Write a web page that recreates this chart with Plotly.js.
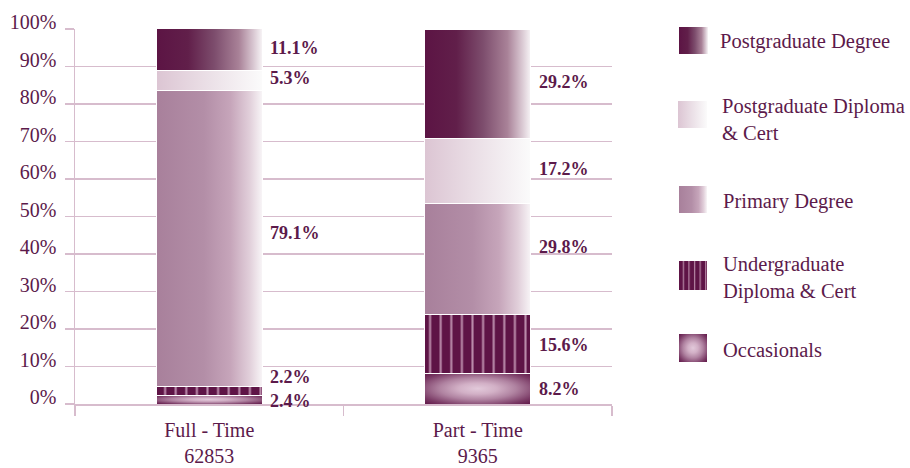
<!DOCTYPE html>
<html><head><meta charset="utf-8">
<script src="https://cdn.plot.ly/plotly-3.0.1.min.js"></script>
<style>html,body{margin:0;padding:0;background:#fff}#chart{width:910px;height:468px}</style>
</head><body><div id="chart"></div>
<script>
// ---------- data ----------
const categories = ['Full - Time<br>62853', 'Part - Time<br>9365'];
const seriesNames = ['Occasionals', 'Undergraduate<br>Diploma & Cert', 'Primary Degree', 'Postgraduate Diploma<br>& Cert', 'Postgraduate Degree'];
const occasionals      = [2.4, 8.2];
const undergradDiploma = [2.2, 15.6];
const primaryDegree    = [79.1, 29.8];
const postgradDiploma  = [5.3, 17.2];
const postgradDegree   = [11.1, 29.2];
const yTickVals = [0, 10, 20, 30, 40, 50, 60, 70, 80, 90, 100];
const yTickText = ['0%', '10%', '20%', '30%', '40%', '50%', '60%', '70%', '80%', '90%', '100%'];

// ---------- style ----------
const FONT = 'Liberation Serif, DejaVu Serif, serif';
const TXT = '#5c1a4b';
const DARK = '#5e1446';
const GRID = '#d7bccd';
const BARW = 0.395;
const series = [occasionals, undergradDiploma, primaryDegree, postgradDiploma, postgradDegree];
const baseColors = ['#8a4a73', DARK, '#b996ad', '#e9dce4', '#7a3f66'];
const fillIds = ['g-occ', null, 'g-pri', 'g-pgdip', 'g-pgdeg'];

const traces = series.map((vals, i) => {
  const t = {
    type: 'bar', name: seriesNames[i], x: categories, y: vals, width: BARW,
    marker: { color: baseColors[i], line: { color: '#ffffff', width: 1 } },
    hoverinfo: 'skip', showlegend: false
  };
  if (i === 1) {
    t.marker.pattern = { shape: '|', fgcolor: '#b98aa9', bgcolor: DARK, size: 10.6, solidity: 0.2, fillmode: 'replace' };
  }
  return t;
});

// label nudges (px, + = up) per category per series
const labelNudge = [[-1, 14, 5, 2, 1], [0, -1, 12, 2, 2]];
const annotations = [];
categories.forEach((c, ci) => {
  let cum = 0;
  series.forEach((vals, si) => {
    const v = vals[ci];
    annotations.push({
      x: ci + BARW / 2, y: cum + v / 2, xref: 'x', yref: 'y',
      text: v.toFixed(1) + '%', showarrow: false, xanchor: 'left', yanchor: 'middle',
      xshift: 6, yshift: labelNudge[ci][si],
      font: { family: FONT, size: 18, color: TXT, weight: 'bold' }
    });
    cum += v;
  });
});

// legend (custom, paper coordinates derived from the plot frame)
const L = 75, R = 612, T = 29, B = 404;
const px = p => (p - L) / (R - L);
const py = p => (B - p) / (B - T);
const legendItems = [
  { name: seriesNames[4], fill: 'g-pgdeg', box: [679, 708, 27, 54], tx: 718, ty: 41 },
  { name: seriesNames[3], fill: 'g-pgdip', box: [678, 707, 101, 128], tx: 720, ty: 119 },
  { name: seriesNames[2], fill: 'g-pri', box: [679, 707, 186, 213], tx: 721, ty: 201 },
  { name: seriesNames[1], fill: 'p-stripes', box: [679, 707, 261, 290], tx: 721, ty: 278 },
  { name: seriesNames[0], fill: 'g-occ', box: [679, 707, 334, 362], tx: 721, ty: 350 }
];
const shapes = legendItems.map(it => ({
  type: 'rect', xref: 'paper', yref: 'paper',
  x0: px(it.box[0]), x1: px(it.box[1]), y0: py(it.box[3]), y1: py(it.box[2]),
  fillcolor: '#9a6a8a', line: { width: 0 }, layer: 'above'
}));
legendItems.forEach(it => annotations.push({
  x: px(it.tx), y: py(it.ty), xref: 'paper', yref: 'paper', text: it.name,
  showarrow: false, xanchor: 'left', yanchor: 'middle', align: 'left',
  font: { family: FONT, size: 20.5, color: TXT }
}));

const layout = {
  width: 910, height: 468,
  margin: { l: L, r: 910 - R, t: T, b: 468 - B, pad: 0 },
  paper_bgcolor: '#ffffff', plot_bgcolor: '#ffffff',
  barmode: 'stack', showlegend: false,
  xaxis: {
    type: 'category', range: [-0.5, 1.5], tickson: 'boundaries',
    ticks: 'outside', ticklen: 10, tickwidth: 1.5, tickcolor: GRID,
    showline: true, linecolor: GRID, linewidth: 1.5, showgrid: false,
    ticklabelstandoff: 7,
    tickfont: { family: FONT, size: 20, color: TXT }
  },
  yaxis: {
    range: [0, 100], tickvals: yTickVals, ticktext: yTickText,
    showgrid: true, gridcolor: GRID, gridwidth: 1.5, zeroline: false,
    ticks: 'outside', ticklen: 9, tickwidth: 1.5, tickcolor: GRID,
    showline: true, linecolor: GRID, linewidth: 1.5,
    ticklabelstandoff: 4, ticklabelshift: -7,
    tickfont: { family: FONT, size: 20, color: TXT }
  },
  shapes: shapes,
  annotations: annotations
};

function applyFills(gd) {
  const NS = 'http://www.w3.org/2000/svg';
  const svg = gd.querySelector('.main-svg');
  let defs = svg.querySelector('defs');
  if (!defs) { defs = document.createElementNS(NS, 'defs'); svg.insertBefore(defs, svg.firstChild); }
  function addStops(g, stops) {
    stops.forEach(s => {
      const st = document.createElementNS(NS, 'stop');
      st.setAttribute('offset', s[0]); st.setAttribute('stop-color', s[1]);
      g.appendChild(st);
    });
  }
  function lin(id, stops) {
    const g = document.createElementNS(NS, 'linearGradient');
    g.setAttribute('id', id); g.setAttribute('x1', '0'); g.setAttribute('y1', '0');
    g.setAttribute('x2', '1'); g.setAttribute('y2', '0');
    addStops(g, stops); defs.appendChild(g);
  }
  function rad(id, stops, r) {
    const g = document.createElementNS(NS, 'radialGradient');
    g.setAttribute('id', id); g.setAttribute('cx', '0.5'); g.setAttribute('cy', '0.5'); g.setAttribute('r', r);
    addStops(g, stops); defs.appendChild(g);
  }
  lin('g-pgdeg', [[0, '#5c1444'], [0.3, '#611f4a'], [0.55, '#7d4d6d'], [0.78, '#a98298'], [0.92, '#dac9d3'], [1, '#f7f4f6']]);
  lin('g-pgdip', [[0, '#dcc5d3'], [0.5, '#ebe0e7'], [1, '#fbfbfb']]);
  lin('g-pri', [[0, '#a8809b'], [0.45, '#b38ea7'], [0.7, '#c6a5ba'], [0.88, '#e1cfda'], [1, '#f8f5f7']]);
  rad('g-occ', [[0, '#e2c9da'], [0.25, '#d2b0c6'], [0.5, '#b083a1'], [0.8, '#7a3a65'], [1, '#5e1446']], '0.72');
  // stripes for legend swatch
  const pat = document.createElementNS(NS, 'pattern');
  pat.setAttribute('id', 'p-stripes'); pat.setAttribute('patternUnits', 'objectBoundingBox');
  pat.setAttribute('patternContentUnits', 'objectBoundingBox');
  pat.setAttribute('width', '0.2'); pat.setAttribute('height', '1');
  const r1 = document.createElementNS(NS, 'rect');
  r1.setAttribute('x', 0); r1.setAttribute('y', 0); r1.setAttribute('width', 0.2); r1.setAttribute('height', 1); r1.setAttribute('fill', DARK);
  const r2 = document.createElementNS(NS, 'rect');
  r2.setAttribute('x', 0.14); r2.setAttribute('y', 0); r2.setAttribute('width', 0.035); r2.setAttribute('height', 1); r2.setAttribute('fill', '#c9a2bb');
  pat.appendChild(r1); pat.appendChild(r2); defs.appendChild(pat);

  gd.querySelectorAll('.barlayer .trace').forEach((tr, i) => {
    if (fillIds[i]) tr.querySelectorAll('path').forEach(p => { p.style.fill = 'url(#' + fillIds[i] + ')'; });
  });
  gd.querySelectorAll('.shapelayer path').forEach(p => {
    const idx = +p.getAttribute('data-index');
    if (legendItems[idx]) p.style.fill = 'url(#' + legendItems[idx].fill + ')';
  });
}

Plotly.newPlot('chart', traces, layout, { staticPlot: true, displayModeBar: false })
  .then(gd => applyFills(gd));
</script>
</body></html>
